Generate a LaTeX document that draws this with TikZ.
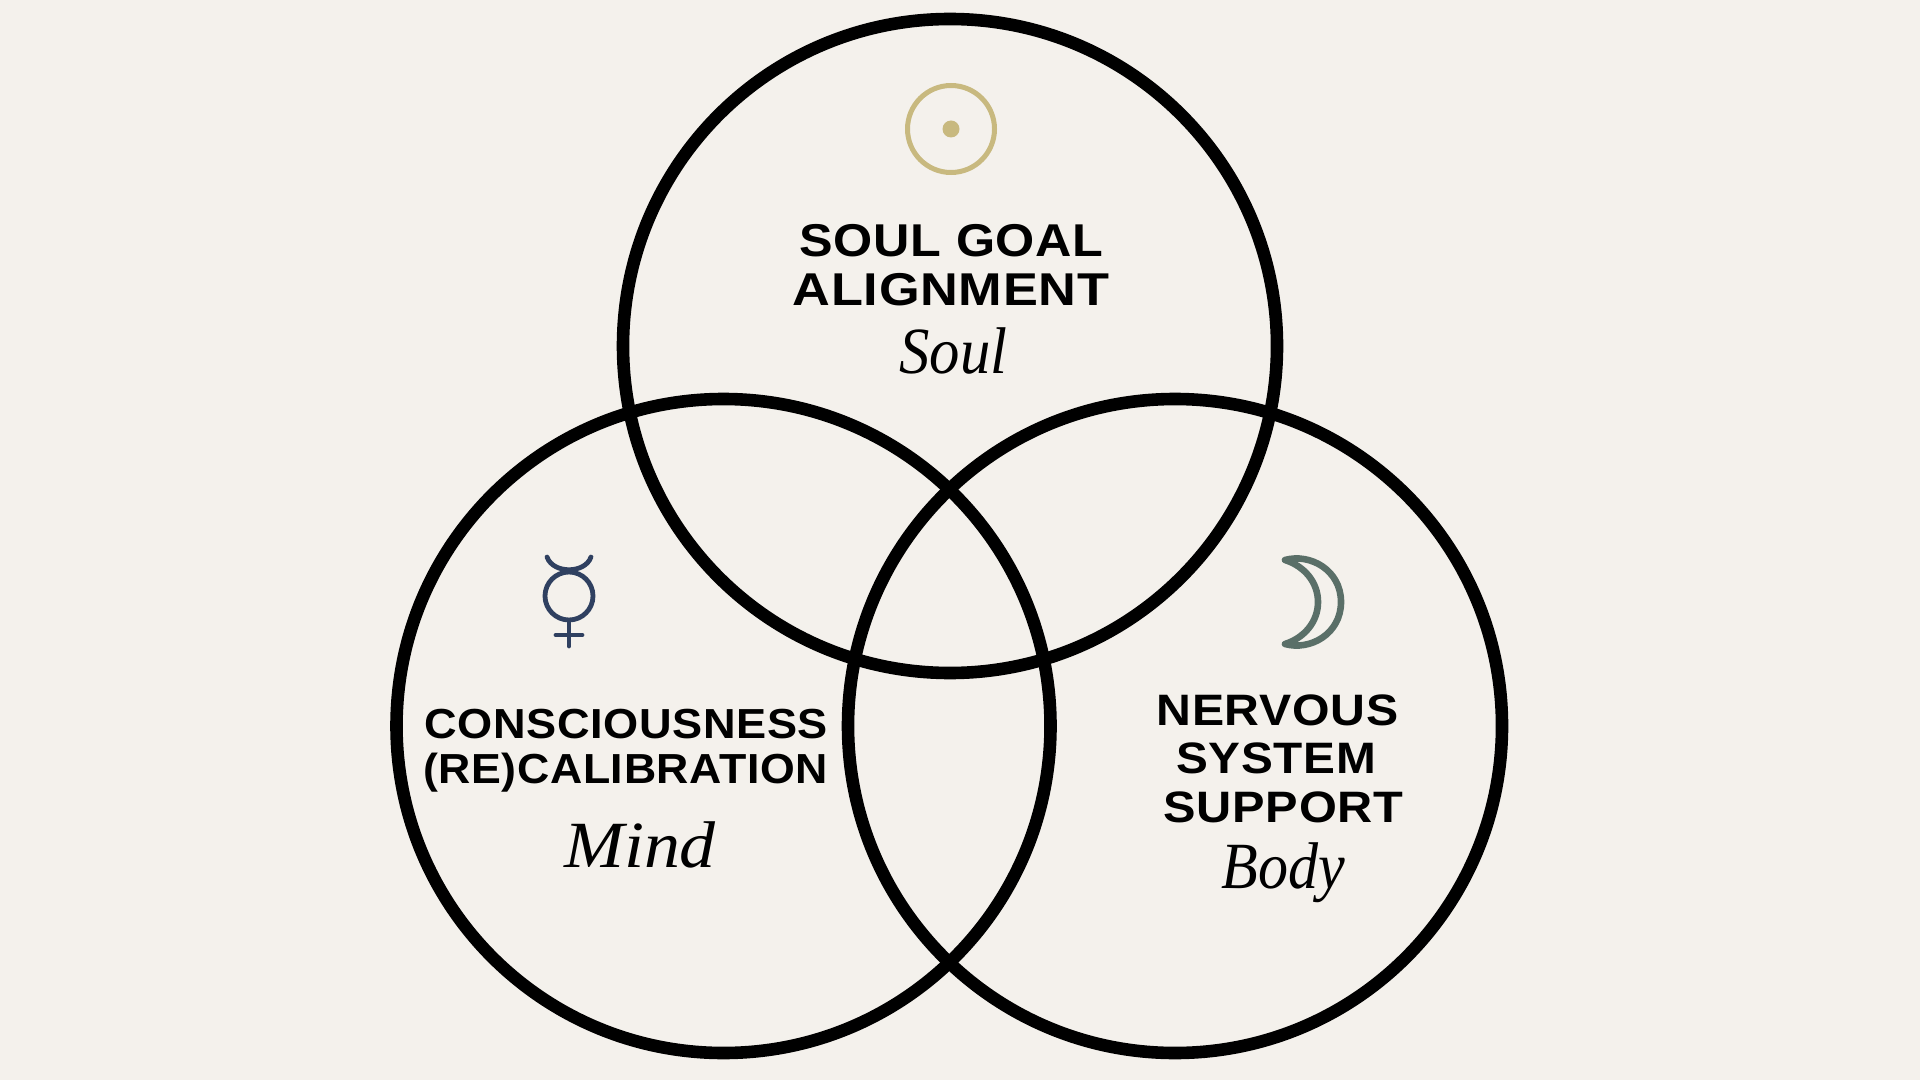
\documentclass[tikz,border=0pt]{standalone}
\usepackage{fontspec}
\setmainfont{Liberation Serif}
\newfontfamily\headfont[FakeStretch=1.08,LetterSpace=1.5]{Liberation Sans Bold}
\newfontfamily\handfont{Liberation Serif Italic}
\definecolor{paper}{HTML}{F4F1EC}
\definecolor{sunc}{HTML}{C8B97F}
\definecolor{mercc}{HTML}{2F4060}
\definecolor{moonc}{HTML}{5A6F68}
\tikzset{
  ring/.style={circle,draw=black,line width=6.3pt,minimum size=327pt,inner sep=0pt,outer sep=0pt},
  headA/.style={anchor=base,inner sep=0pt,font=\headfont\fontsize{23}{23}\selectfont},
  headB/.style={anchor=base,inner sep=0pt,font=\headfont\fontsize{21}{21}\selectfont},
  headC/.style={anchor=base,inner sep=0pt,font=\headfont\fontsize{22}{22}\selectfont},
  hand/.style={anchor=base,inner sep=0pt,font=\handfont\fontsize{33}{33}\selectfont},
}
\begin{document}
\begin{tikzpicture}[x=0.5pt,y=-0.5pt]
\fill[paper] (0,0) rectangle (1920,1080);
\useasboundingbox (0,0) rectangle (1920,1080);
\node[ring] (soulring) at (950,346) {};
\node[ring] (mindring) at (723.5,726) {};
\node[ring] (bodyring) at (1175,726) {};
% sun
\draw[sunc,line width=2.5pt] (951,129) circle[radius=43.5];
\fill[sunc] (951,129) circle[radius=8.5];
% mercury
\begin{scope}[mercc,line width=2.4pt,line cap=round]
\draw (569,596) circle[radius=24];
\draw (547,557) .. controls (553,574) and (585,574) .. (591,557);
\draw (569,621) -- (569,646);
\draw (556,635) -- (582,635);
\end{scope}
% moon
\draw[moonc,line width=3.3pt,line join=round] (1285,560) .. controls (1310,553) and (1341,570) .. (1341,602) .. controls (1341,634) and (1310,651) .. (1285,644) .. controls (1304,638) and (1318,622) .. (1318,602) .. controls (1318,582) and (1304,566) .. (1285,560) -- cycle;
% text
\node[headA] (t1) at (951.5,257) {\scalebox{1.013}[1]{SOUL GOAL}};
\node[headA] (t2) at (951,306) {\scalebox{1.053}[1]{ALIGNMENT}};
\node[hand] (t3) at (953.5,373) {\scalebox{0.92}[1]{Soul}};
\node[headB] (t4) at (626,738) {\scalebox{0.995}[1]{CONSCIOUSNESS}};
\node[headB] (t5) at (625.5,783) {\scalebox{0.985}[1]{(RE)CALIBRATION}};
\node[hand] (t6) at (640,867) {\scalebox{1.09}[1]{Mind}};
\node[headC] (t7) at (1277.5,725) {\scalebox{1.015}[1]{NERVOUS}};
\node[headC] (t8) at (1276,773) {\scalebox{1.005}[1]{SYSTEM}};
\node[headC] (t9) at (1283.5,822) {\scalebox{1.025}[1]{SUPPORT}};
\node[hand] (t10) at (1283.5,888) {\scalebox{0.91}[1]{Body}};
\end{tikzpicture}
\end{document}
